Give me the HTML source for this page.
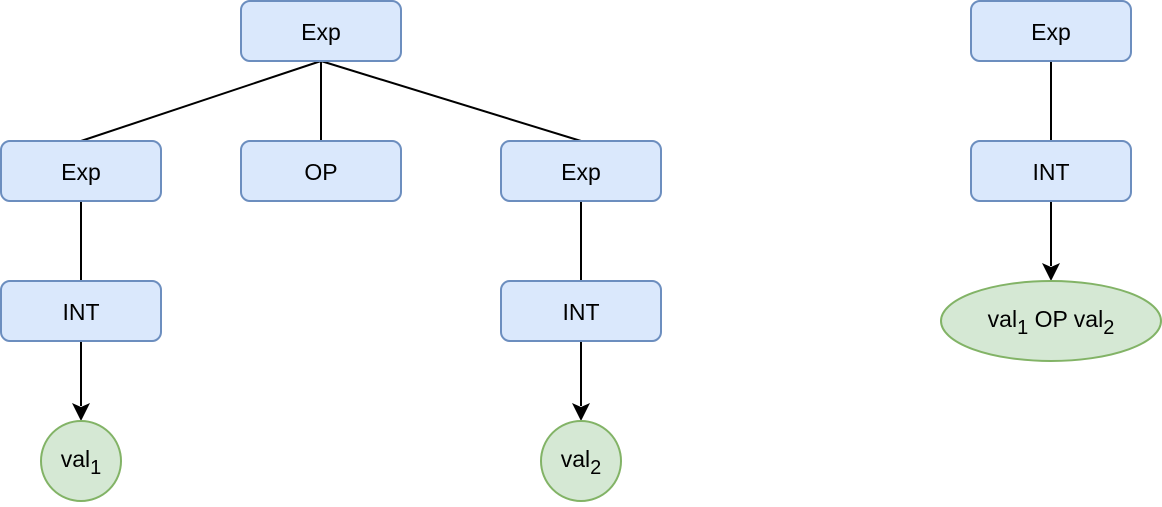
<!DOCTYPE html>
<html><head><meta charset="utf-8"><style>
html,body{margin:0;padding:0;background:#fff;}
svg text{font-family:"Liberation Sans",Arial,sans-serif;font-size:23px;fill:#000;}
</style></head><body>
<svg width="1162" height="502" xmlns="http://www.w3.org/2000/svg">
<g stroke="#000" stroke-width="2" fill="none">
<line x1="321" y1="61" x2="81" y2="141"/>
<line x1="321" y1="61" x2="321" y2="141"/>
<line x1="321" y1="61" x2="581" y2="141"/>
<line x1="81" y1="201" x2="81" y2="281"/>
<line x1="581" y1="201" x2="581" y2="281"/>
<line x1="1051" y1="61" x2="1051" y2="141"/>
<line x1="81" y1="341" x2="81" y2="406"/>
<line x1="581" y1="341" x2="581" y2="406"/>
<line x1="1051" y1="201" x2="1051" y2="266"/>
</g>
<g fill="#000">
<path d="M72,403 L81,421 L90,403 L81,407 Z"/>
<path d="M572,403 L581,421 L590,403 L581,407 Z"/>
<path d="M1042,263 L1051,281 L1060,263 L1051,267 Z"/>
</g>
<g fill="#dae8fc" stroke="#6c8ebf" stroke-width="2">
<rect x="241" y="1" width="160" height="60" rx="9"/>
<rect x="1" y="141" width="160" height="60" rx="9"/>
<rect x="241" y="141" width="160" height="60" rx="9"/>
<rect x="501" y="141" width="160" height="60" rx="9"/>
<rect x="1" y="281" width="160" height="60" rx="9"/>
<rect x="501" y="281" width="160" height="60" rx="9"/>
<rect x="971" y="1" width="160" height="60" rx="9"/>
<rect x="971" y="141" width="160" height="60" rx="9"/>
</g>
<g fill="#d5e8d4" stroke="#82b366" stroke-width="2">
<circle cx="81" cy="461" r="40"/>
<circle cx="581" cy="461" r="40"/>
<ellipse cx="1051" cy="321" rx="110" ry="40"/>
</g>
<g text-anchor="middle">
<text x="321" y="40">Exp</text>
<text x="81" y="180">Exp</text>
<text x="321" y="180">OP</text>
<text x="581" y="180">Exp</text>
<text x="81" y="320">INT</text>
<text x="581" y="320">INT</text>
<text x="1051" y="40">Exp</text>
<text x="1051" y="180">INT</text>
<text x="81" y="467">val<tspan font-size="20" dy="7">1</tspan></text>
<text x="581" y="467">val<tspan font-size="20" dy="7">2</tspan></text>
<text x="1051" y="327">val<tspan font-size="20" dy="7">1</tspan><tspan dy="-7"> OP val</tspan><tspan font-size="20" dy="7">2</tspan></text>
</g>
</svg>
</body></html>
